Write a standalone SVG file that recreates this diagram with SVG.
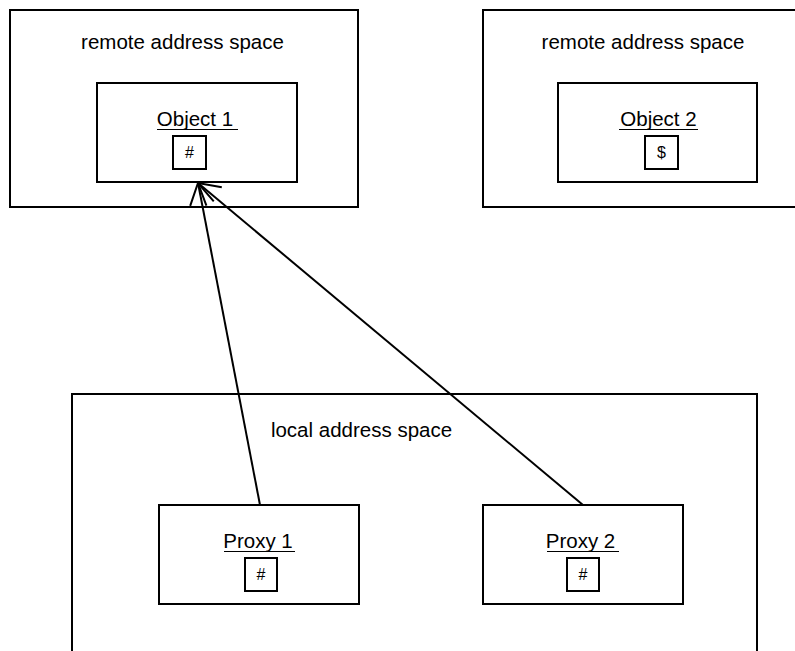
<svg xmlns="http://www.w3.org/2000/svg" width="795" height="651" viewBox="0 0 795 651">
  <style>
    .box { fill: #ffffff; stroke: #000000; stroke-width: 2; }
    .lbl { font-family: "Liberation Sans", Arial, sans-serif; font-size: 20.5px; fill: #000000; text-anchor: middle; }
    .sm { font-family: "Liberation Sans", Arial, sans-serif; font-size: 16px; fill: #000000; text-anchor: middle; }
    .ul { stroke: #000000; stroke-width: 1; }
    .conn { stroke: #000000; stroke-width: 2; fill: none; marker-end: url(#open); }
  </style>
  <defs>
    <marker id="open" markerUnits="userSpaceOnUse" markerWidth="30" markerHeight="30" refX="0" refY="0" orient="auto" overflow="visible">
      <path d="M -21 -12 L 0 0 L -21 12" fill="none" stroke="#000000" stroke-width="2"/>
    </marker>
  </defs>
  <rect width="795" height="651" fill="#ffffff"/>

  <g id="remote1">
    <rect class="box" x="10" y="10" width="348" height="197"/>
    <text class="lbl" x="182.5" y="49">remote address space</text>
  </g>
  <g id="remote2">
    <rect class="box" x="483" y="10" width="330" height="197"/>
    <text class="lbl" x="643" y="49">remote address space</text>
  </g>
  <g id="local">
    <rect class="box" x="72" y="394" width="685" height="280"/>
    <text class="lbl" x="361.5" y="437">local address space</text>
  </g>

  <g id="object1">
    <rect class="box" x="97" y="83" width="200" height="99"/>
    <text class="lbl" x="195" y="126">Object 1</text>
    <line class="ul" x1="157" y1="129.5" x2="238" y2="129.5"/>
    <rect class="box" x="173" y="136" width="33" height="33"/>
    <text class="sm" x="189.5" y="158">#</text>
  </g>
  <g id="object2">
    <rect class="box" x="558" y="83" width="199" height="99"/>
    <text class="lbl" x="658.5" y="126">Object 2</text>
    <line class="ul" x1="619" y1="129.5" x2="698" y2="129.5"/>
    <rect class="box" x="645" y="136" width="33" height="33"/>
    <text class="sm" x="661.5" y="158">$</text>
  </g>
  <g id="proxy1">
    <rect class="box" x="159" y="505" width="200" height="99"/>
    <text class="lbl" x="258" y="548">Proxy 1</text>
    <line class="ul" x1="224" y1="551.5" x2="295" y2="551.5"/>
    <rect class="box" x="245" y="558" width="32" height="33"/>
    <text class="sm" x="261" y="580">#</text>
  </g>
  <g id="proxy2">
    <rect class="box" x="483" y="505" width="200" height="99"/>
    <text class="lbl" x="580.5" y="548">Proxy 2</text>
    <line class="ul" x1="547" y1="551.5" x2="619" y2="551.5"/>
    <rect class="box" x="567" y="558" width="32" height="33"/>
    <text class="sm" x="583" y="580">#</text>
  </g>

  <g id="connectors">
    <line class="conn" x1="260" y1="505" x2="198" y2="183"/>
    <line class="conn" x1="583" y1="505" x2="198" y2="183"/>
  </g>
</svg>
